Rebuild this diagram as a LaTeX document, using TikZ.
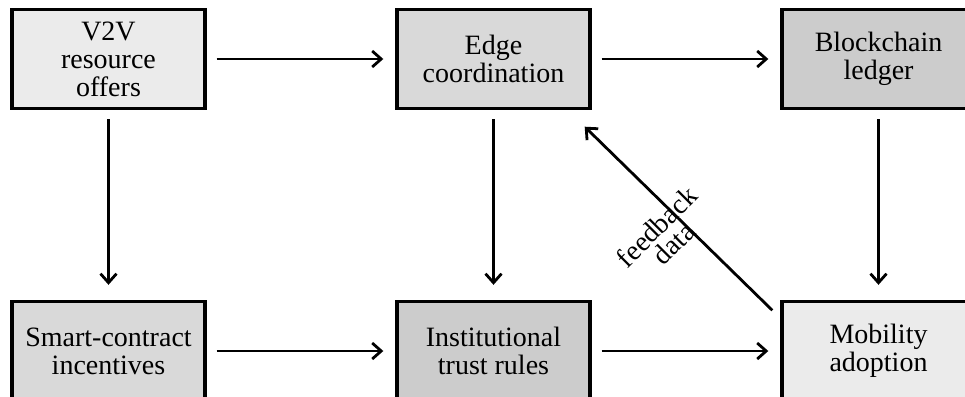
\documentclass[tikz,border=0pt]{standalone}
\usepackage{fontspec}
\setmainfont{Liberation Serif}
\usetikzlibrary{arrows.meta}

\begin{document}
\begin{tikzpicture}[x=1pt,y=1pt]
\tikzstyle{every node}+=[font=\fontsize{28}{28}\selectfont]
\tikzstyle{box}=[draw=black, line width=3.4pt, minimum width=193pt, minimum height=99pt, align=center, inner sep=0pt]
\tikzstyle{arr}=[line width=2.8pt, -{Straight Barb[length=9pt,width=16pt,line width=2.8pt]}]
\useasboundingbox (0,0) rectangle (965,-396);
% top row
\node [box, fill=black!8] (v2v) at (108.5,-59) {V2V\\resource\\offers};
\node [box, fill=black!15] (edge) at (493.5,-59) {Edge\\coordination};
\node [box, fill=black!20] (ledger) at (878.5,-59) {Blockchain\\ledger};
% bottom row
\node [box, fill=black!15] (smart) at (108.5,-351) {Smart-contract\\incentives};
\node [box, fill=black!20] (trust) at (493.5,-351) {Institutional\\trust rules};
\node [box, fill=black!8] (mob) at (878.5,-351) {Mobility\\adoption};
% connectors
\draw [arr] ([xshift=10pt]v2v.east) -- ([xshift=-12pt]edge.west);
\draw [arr] ([xshift=10pt]edge.east) -- ([xshift=-12pt]ledger.west);
\draw [arr] ([xshift=10pt]smart.east) -- ([xshift=-12pt]trust.west);
\draw [arr] ([xshift=10pt]trust.east) -- ([xshift=-12pt]mob.west);
\draw [arr] ([yshift=-9pt]v2v.south) -- ([yshift=15pt]smart.north);
\draw [arr] ([yshift=-9pt]edge.south) -- ([yshift=15pt]trust.north);
\draw [arr] ([yshift=-9pt]ledger.south) -- ([yshift=15pt]mob.north);
\draw [arr] ([shift={(-8,-10.5)}]mob.north west) -- ([shift={(-7,-16.5)}]edge.south east);
\node [rotate=45, align=center, font=\fontsize{28}{24}\selectfont] (fb) at (665,-235) {feedback\\data};
\end{tikzpicture}
\end{document}
